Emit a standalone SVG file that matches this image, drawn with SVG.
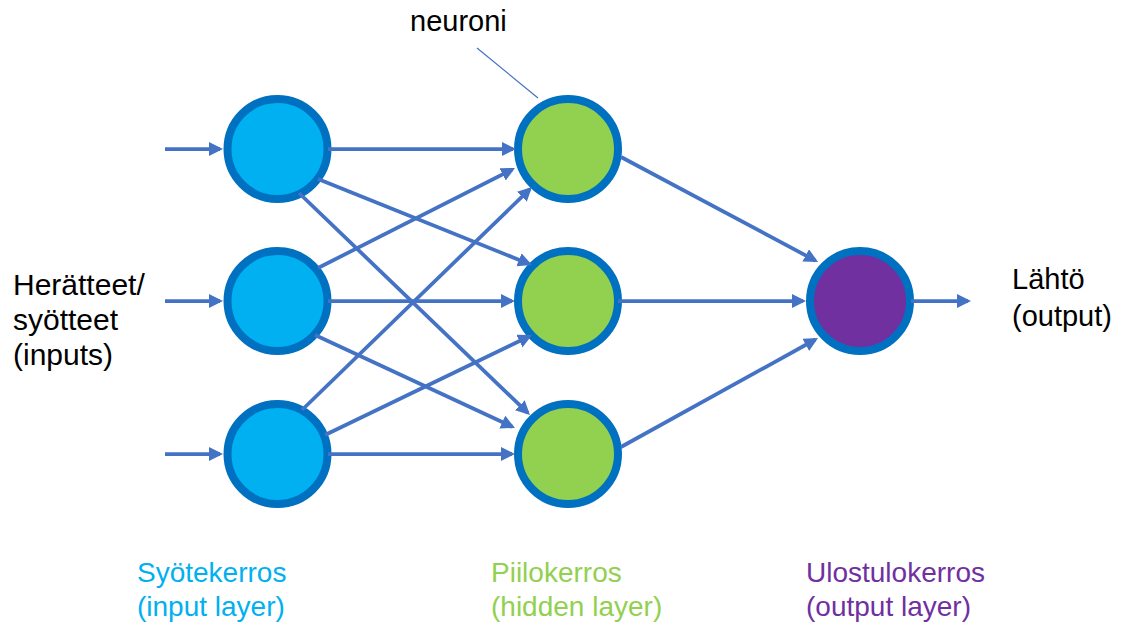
<svg xmlns="http://www.w3.org/2000/svg" width="1129" height="626" viewBox="0 0 1129 626">
  <defs>
    <marker id="arr" markerUnits="userSpaceOnUse" markerWidth="16" markerHeight="16" viewBox="0 0 16 16" refX="11" refY="7" orient="auto">
      <path d="M0,0 L14,7 L0,14 Z" fill="#4472C4"/>
    </marker>
  </defs>
  <style>
    .n circle { stroke: #0070C0; stroke-width: 8; }
    .in circle { fill: #00B0F0; }
    .hid circle { fill: #92D050; }
    .out circle { fill: #7030A0; }
    .c line { stroke: #4472C4; stroke-width: 3.75; fill: none; marker-end: url(#arr); }
    .t { font-family: "Liberation Sans", Arial, sans-serif; fill: #000; }
  </style>
  <rect width="1129" height="626" fill="#fff"/>

  <g id="input1" class="n in"><circle cx="277.5" cy="149" r="50"/></g>
  <g id="input2" class="n in"><circle cx="277.5" cy="301" r="50"/></g>
  <g id="input3" class="n in"><circle cx="277.5" cy="454" r="50"/></g>
  <g id="hidden1" class="n hid"><circle cx="568" cy="149" r="50"/></g>
  <g id="hidden2" class="n hid"><circle cx="568" cy="301" r="50"/></g>
  <g id="hidden3" class="n hid"><circle cx="568" cy="454" r="50"/></g>
  <g id="output" class="n out"><circle cx="860" cy="301" r="50"/></g>

  <g id="connectors" class="c">
    <line x1="165" y1="149" x2="220" y2="149"/>
    <line x1="165" y1="301" x2="220" y2="301"/>
    <line x1="165" y1="454" x2="220" y2="454"/>
    <line x1="328" y1="149" x2="513" y2="149"/>
    <line x1="318" y1="179" x2="529.2" y2="263.9"/>
    <line x1="299" y1="193" x2="527.8" y2="412.9"/>
    <line x1="318" y1="268" x2="512.3" y2="169.4"/>
    <line x1="328" y1="301" x2="512" y2="301"/>
    <line x1="315" y1="335" x2="512.3" y2="426.7"/>
    <line x1="302" y1="410" x2="529.8" y2="189.1"/>
    <line x1="325" y1="435" x2="529.3" y2="336.3"/>
    <line x1="328" y1="454" x2="512" y2="454"/>
    <line x1="621" y1="157" x2="815.4" y2="260.6"/>
    <line x1="618" y1="301" x2="803" y2="301"/>
    <line x1="621" y1="447" x2="815.4" y2="339.5"/>
    <line x1="911" y1="301" x2="968" y2="301"/>
  </g>

  <g id="neuron-label">
    <line x1="477" y1="48" x2="538" y2="98" stroke="#4472C4" stroke-width="1.2"/>
    <text class="t" x="410" y="31" font-size="29">neuroni</text>
  </g>

  <g id="inputs-label" class="t" font-size="30">
    <text x="13" y="295">Herätteet/</text>
    <text x="13" y="330">syötteet</text>
    <text x="13" y="365">(inputs)</text>
  </g>

  <g id="output-label" class="t" font-size="29">
    <text x="1012" y="289">Lähtö</text>
    <text x="1012" y="326">(output)</text>
  </g>

  <g id="layer-labels" font-family="Liberation Sans, Arial, sans-serif" font-size="28">
    <text x="137" y="582" fill="#00B0F0">Syötekerros</text>
    <text x="137" y="616" fill="#00B0F0">(input layer)</text>
    <text x="491" y="582" fill="#92D050">Piilokerros</text>
    <text x="491" y="616" fill="#92D050">(hidden layer)</text>
    <text x="806" y="582" fill="#7030A0">Ulostulokerros</text>
    <text x="806" y="616" fill="#7030A0">(output layer)</text>
  </g>
</svg>
